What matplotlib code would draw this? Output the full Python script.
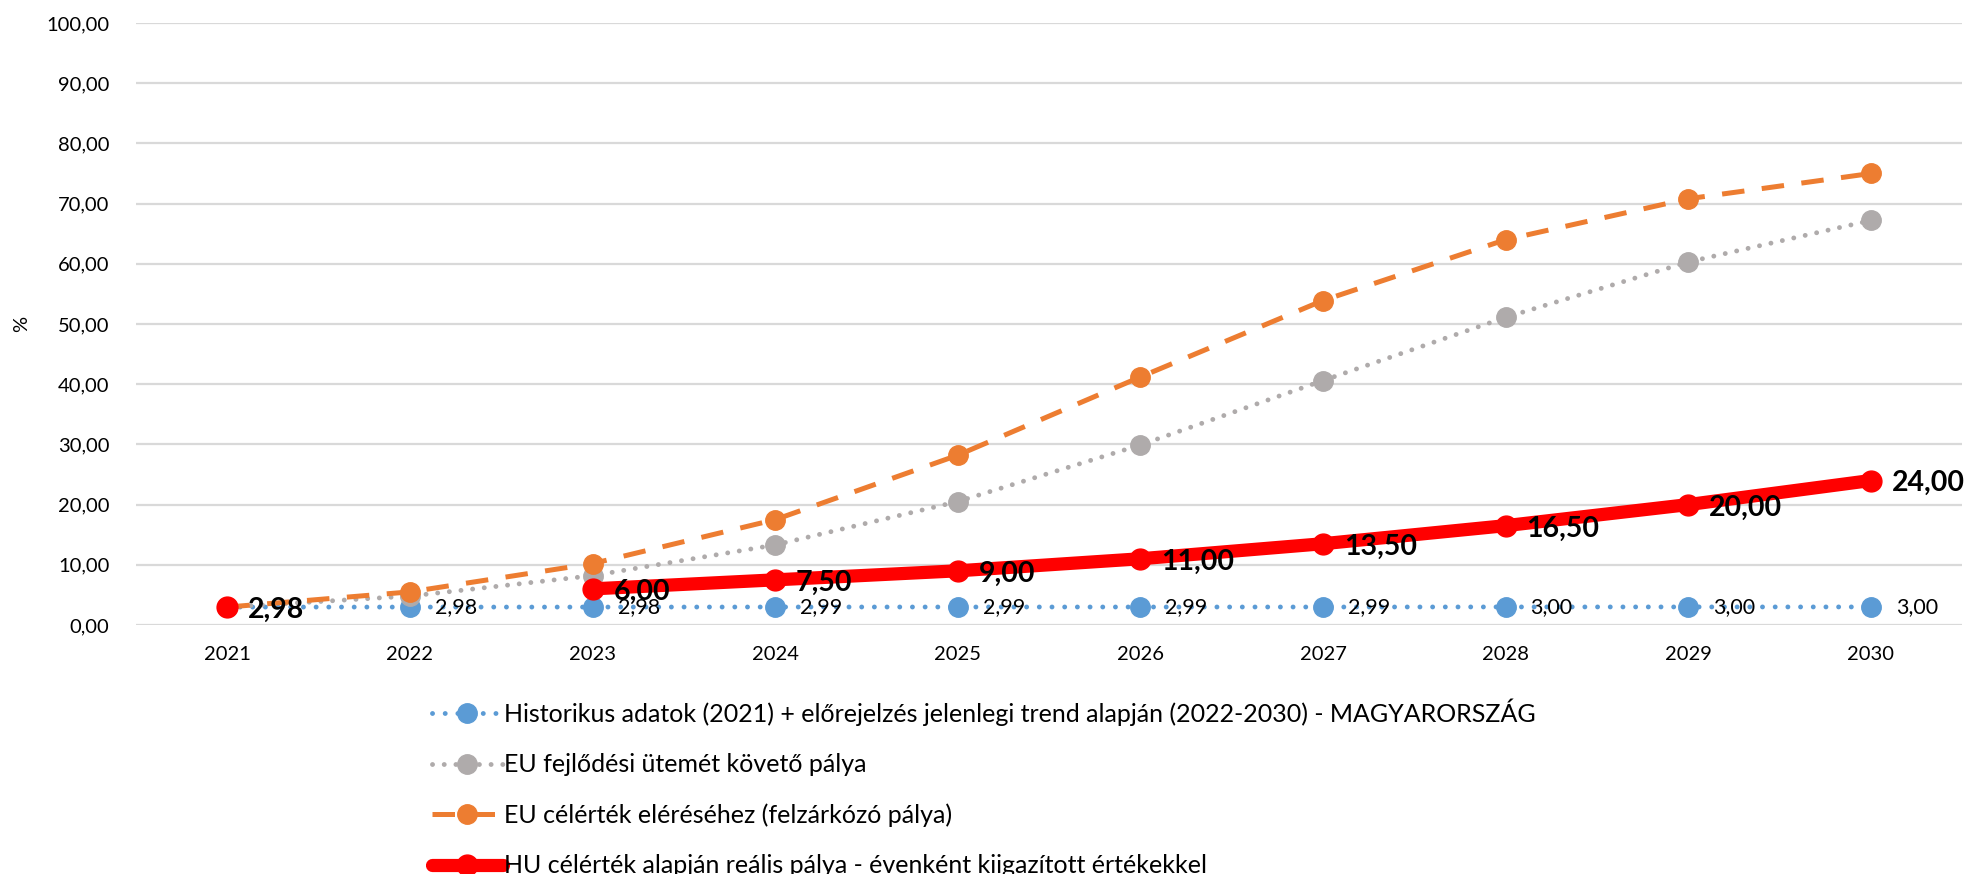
import numpy as np
import matplotlib
matplotlib.use("Agg")
import matplotlib.pyplot as plt

plt.rcParams['font.family'] = ['Lato', 'DejaVu Sans']

years = ["2021", "2022", "2023", "2024", "2025", "2026", "2027", "2028", "2029", "2030"]
hist = [2.98, 2.98, 2.98, 2.99, 2.99, 2.99, 2.99, 3.00, 3.00, 3.00]
eu_pace = [2.98, 4.8, 8.2, 13.3, 20.5, 29.9, 40.6, 51.1, 60.3, 67.2]
eu_target = [2.98, 5.5, 10.2, 17.5, 28.2, 41.2, 53.9, 64.0, 70.8, 75.0]
hu_real = [2.98, np.nan, 6.00, 7.50, 9.00, 11.00, 13.50, 16.50, 20.00, 24.00]

names = [
    "Historikus adatok (2021) + előrejelzés jelenlegi trend alapján (2022-2030) - MAGYARORSZÁG",
    "EU fejlődési ütemét követő pálya",
    "EU célérték eléréséhez (felzárkózó pálya)",
    "HU célérték alapján reális pálya - évenként kiigazított értékekkel",
]

fmt = lambda v: f"{v:.2f}".replace(".", ",")

fig = plt.figure(figsize=(19.68, 8.74), dpi=100)
ax = fig.add_axes([0.0691, 0.2849, 0.9279, 0.6888])
x = np.arange(len(years))

ax.plot(x, hist, color="#5B9BD5", lw=3.5, linestyle=(0, (0.01, 2.6)),
        dash_capstyle="round", marker="o", ms=14, label=names[0], zorder=3)
ax.plot(x, eu_pace, color="#AFABAB", lw=3.5, linestyle=(0, (0.01, 2.4)),
        dash_capstyle="round", marker="o", ms=14, label=names[1], zorder=4)
ax.plot(x, eu_target, color="#ED7D31", lw=3.6, linestyle=(0, (4.5, 3.5)),
        marker="o", ms=14, label=names[2], zorder=5)
ax.plot(x, hu_real, color="#FF0000", lw=9.5, solid_capstyle="round",
        marker="o", ms=15, label=names[3], zorder=6)

for i, v in enumerate(hist):
    if i == 0:
        continue
    ax.annotate(fmt(v), (x[i], v), xytext=(18, 0), textcoords="offset points",
                ha="left", va="center", fontsize=15.5, zorder=7)
for i, v in enumerate(hu_real):
    if np.isnan(v):
        continue
    ax.annotate(fmt(v), (x[i], v), xytext=(15, -2), textcoords="offset points",
                ha="left", va="center", fontsize=20.5, fontweight="bold", zorder=8)

ax.set_xlim(-0.5, len(years) - 0.5)
ax.set_ylim(0, 100)
ax.set_yticks(np.arange(0, 101, 10))
ax.set_yticklabels([fmt(t) for t in np.arange(0, 101, 10)], fontsize=14.5)
ax.set_xticks(x)
ax.set_xticklabels(years, fontsize=14.5)
ax.tick_params(length=0)
ax.tick_params(axis="x", pad=15)
ax.tick_params(axis="y", pad=19)
ax.grid(axis="y", color="#D9D9D9", lw=1.6)
ax.set_axisbelow(True)
for s in ax.spines.values():
    s.set_visible(False)
fig.text(22 / 1968, 1 - 324 / 874, "%", rotation=90, fontsize=14.5, ha="center", va="center")

leg = ax.legend(loc="upper left", bbox_to_anchor=(0.213, 0.215), bbox_transform=fig.transFigure,
                frameon=False, fontsize=18, handlelength=2.85, handletextpad=0.05,
                labelspacing=1.09, borderpad=0)

fig.savefig("out.png", dpi=100)
